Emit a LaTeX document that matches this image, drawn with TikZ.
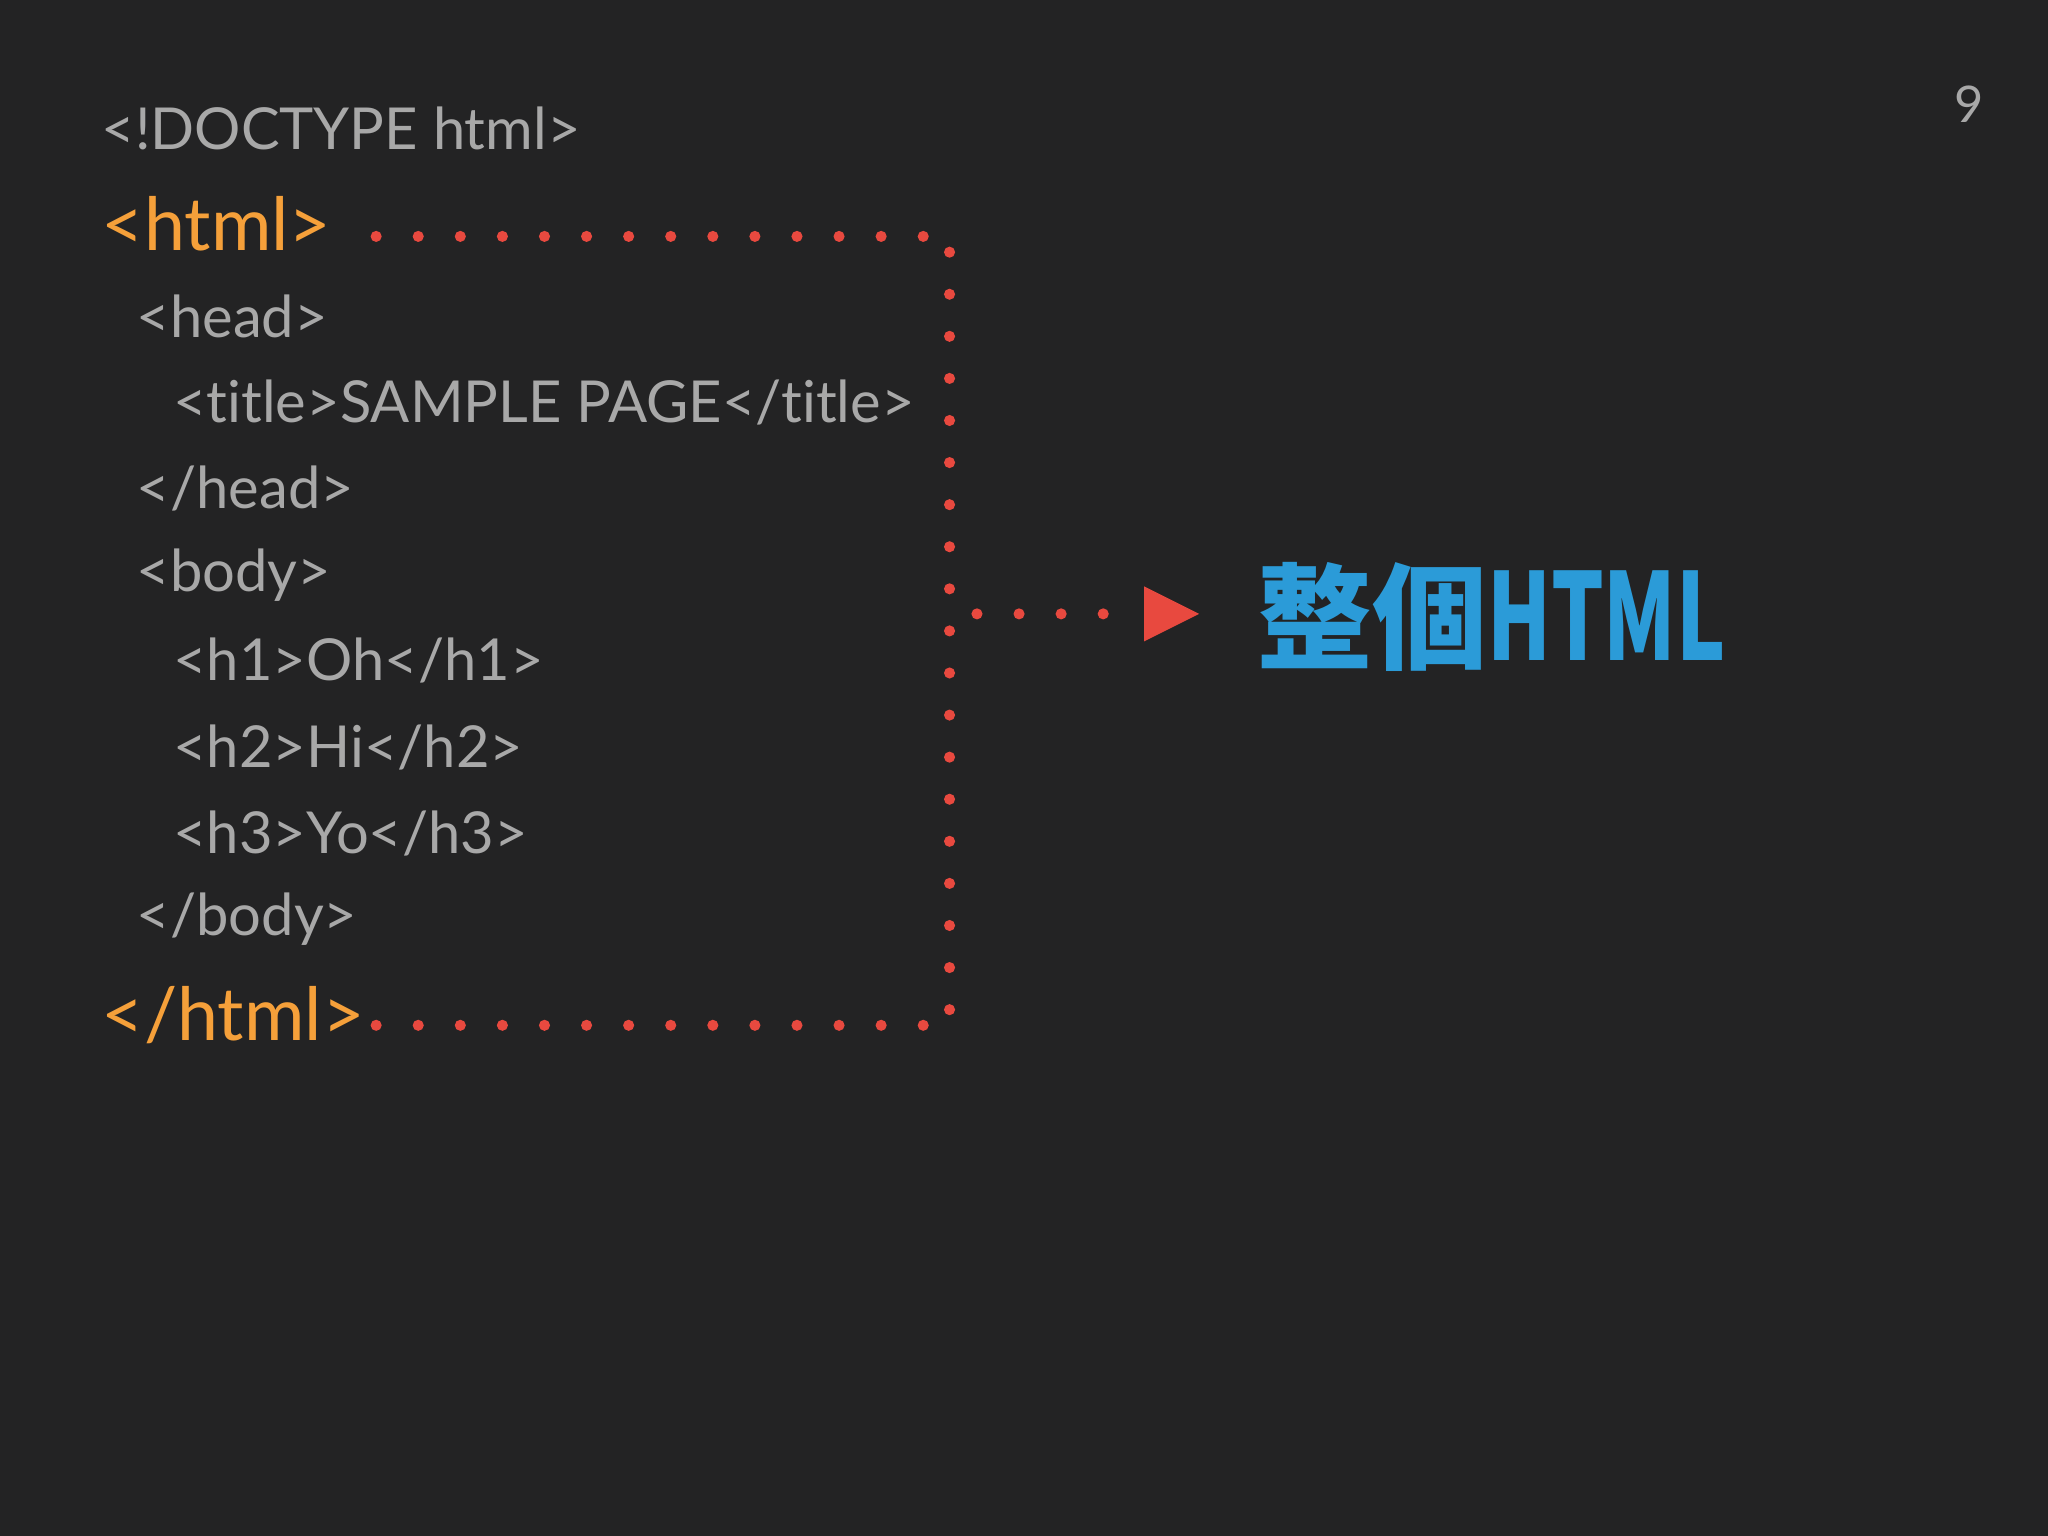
\documentclass[tikz,border=0pt]{standalone}
\usepackage{fontspec}
\setmainfont{Lato}[RawFeature=-liga]
\newfontfamily\cjk{Noto Sans CJK TC}
\usetikzlibrary{positioning,arrows.meta}
\definecolor{bg}{HTML}{232324}
\definecolor{codegray}{HTML}{A8A8A8}
\definecolor{tagorange}{HTML}{F5A03A}
\definecolor{dotred}{HTML}{E8493F}
\definecolor{titleblue}{HTML}{2B9BD8}

\begin{document}
\begin{tikzpicture}[x=0.01cm,y=-0.01cm,
    every node/.style={anchor=west, inner sep=0pt, font=\fontsize{12.6}{15}\selectfont, text=codegray},
    tag/.style={text=tagorange, font=\fontsize{16}{19}\selectfont},
    dotline/.style={draw=dotred, line width=0.085cm, line cap=round, dash pattern=on 0pt off 0.322cm}
  ]
  \fill[bg] (0,0) rectangle (1568,1176);
  \useasboundingbox (0,0) rectangle (1568,1176);
  % code lines
  \node (doctype) at (77,98) {<!DOCTYPE html>};
  \node[tag] (html) at (77,171) {<html>};
  \node (head) at (104,242) {<head>};
  \node (title) at (132,308) {<title>SAMPLE PAGE</title>};
  \node (headend) at (104,374) {</head>};
  \node (body) at (104,440) {<body>};
  \node (hone) at (132,506) {<h1>Oh</h1>};
  \node (htwo) at (132,572) {<h2>Hi</h2>};
  \node (hthree) at (132,638) {<h3>Yo</h3>};
  \node (bodyend) at (104,704) {</body>};
  \node[tag] (htmlend) at (77,777) {</html>};
  \node[text=codegray, font=\fontsize{11}{13}\selectfont] (page) at (1496,80) {9};
  % result
  \node[text=titleblue, font=\cjk\bfseries\fontsize{25}{30}\selectfont] (whole) at (962,472) {整個\scalebox{0.72}[1.05]{HTML}};
  % bracket
  \coordinate (top) at (288,181);
  \coordinate (topright) at (727,181);
  \coordinate (botright) at (727,785);
  \coordinate (bot) at (288,785);
  \coordinate (mid) at (748,470);
  \draw[dotline] (top) -- (topright) -- (botright);
  \draw[dotline] (bot) -- (botright);
  \draw[dotline] (mid) -- (860,470);
  \fill[dotred] (876,449) -- (918,470) -- (876,491) -- cycle;
\end{tikzpicture}
\end{document}
